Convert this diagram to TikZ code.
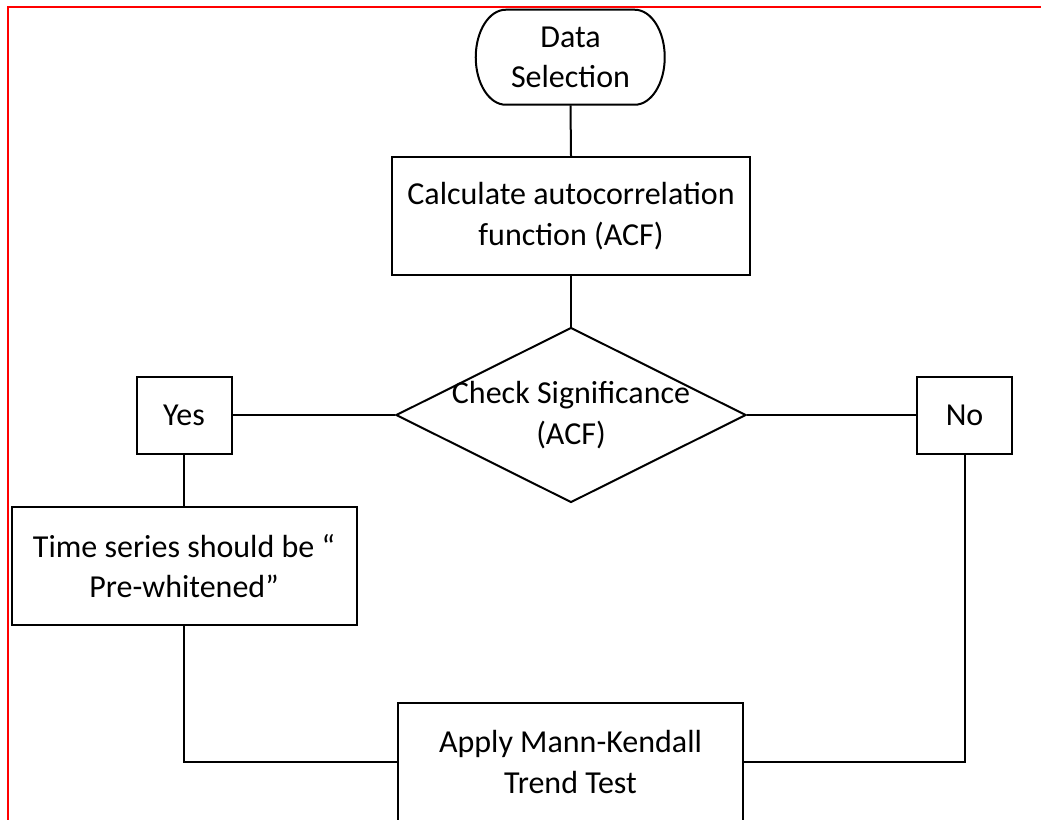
\documentclass[tikz,border=0pt]{standalone}
\usepackage{fontspec}
\setmainfont{Carlito}
\usepackage{tikz}
\usetikzlibrary{shapes.geometric}

\begin{document}
\begin{tikzpicture}[x=0.75pt, y=-0.75pt]
    \tikzset{%
        flowline/.style={line width=1.5pt},
        flowtext/.style={font=\fontsize{24pt}{30.5pt}\selectfont, align=center},
        procbox/.style args={#1/#2}{draw, flowline, flowtext, rectangle, inner sep=0pt,
                minimum width=#1*0.75pt, minimum height=#2*0.75pt},
        decision/.style args={#1/#2}{draw, flowline, diamond, inner sep=0pt,
                minimum width=#1*0.75pt, minimum height=#2*0.75pt},
        terminal/.style args={#1/#2}{flowtext, inner sep=0pt,
                minimum width=#1*0.75pt, minimum height=#2*0.75pt},
    }

    \clip (0, 0) rectangle (1041, 819);
    % frame
    \draw [red, line width=1.5pt] (8, 830) -- (8, 7) -- (1050, 7);

    % start
    \node [terminal=189/95] (data) at (570.5, 57.5) {Data\\Selection};
    \draw [flowline] (data.north west) ++(30, 0) -- ++(129, 0)
        arc [start angle=90, end angle=-90, x radius=22.5pt, y radius=35.625pt]
        -- ++(-129, 0)
        arc [start angle=270, end angle=90, x radius=22.5pt, y radius=35.625pt] -- cycle;

    % steps
    \node [procbox=358/118] (acf) at (571, 216) {Calculate autocorrelation\\function (ACF)};
    \node [decision=350/175, label={[flowtext]center:Check Significance\\(ACF)}] (check) at (571, 415) {};
    \node [procbox=95/77] (yes) at (184, 415) {Yes};
    \node [procbox=95/77] (no) at (964.5, 415) {No};
    \node [procbox=345/118] (white) at (184, 566) {Time series should be “\\Pre-whitened”};
    \node [procbox=345/118] (mk) at (570.5, 762) {Apply Mann-Kendall\\Trend Test};

    % connectors
    \draw [flowline] (data.south) -- (acf.north);
    \draw [flowline] (acf.south) -- (check.north);
    \draw [flowline] (yes.east) -- (check.west);
    \draw [flowline] (check.east) -- (no.west);
    \draw [flowline] (yes.south) -- (white.north);
    \draw [flowline] (white.south) |- (mk.west);
    \draw [flowline] (no.south) |- (mk.east);

\end{tikzpicture}
\end{document}
